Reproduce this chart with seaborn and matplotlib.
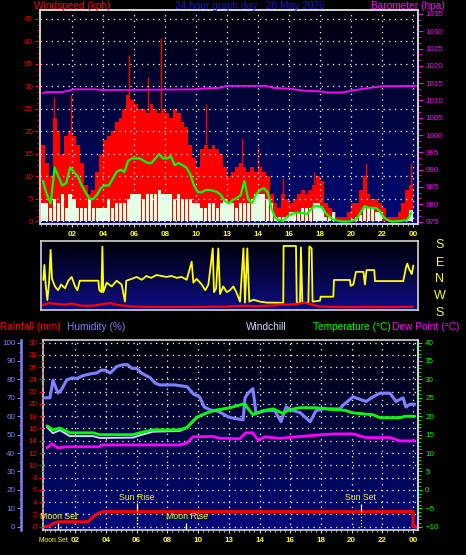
import numpy as np
import pandas as pd
import matplotlib
matplotlib.use("Agg")
import matplotlib.pyplot as plt
import seaborn as sns
from matplotlib.colors import LinearSegmentedColormap
from matplotlib.ticker import FixedLocator, MultipleLocator, AutoMinorLocator

# ---------------- data ----------------
hour_tick_pos = [2, 4, 6, 8, 10, 12, 14, 16, 18, 20, 22, 24]
hour_tick_labels = ["02", "04", "06", "08", "10", "13", "14", "16", "18", "20", "22", "00"]

slot_hours = np.arange(96) * 0.25 + 0.125   # 15-minute sampling slots

wind_gust = [17, 13, 10, 23, 20, 15, 19, 20, 19, 17,
             13, 8, 6, 7, 11, 15, 18, 19, 20, 22,
             23, 25, 28, 27, 26, 25, 25, 24, 26, 25,
             24, 25, 24, 23, 25, 24, 22, 21, 17, 14,
             12, 16, 17, 16, 17, 16, 15, 12, 10, 11,
             12, 13, 12, 11, 12, 11, 12, 11, 10, 6,
             4, 3, 6, 5, 4, 5, 6, 7, 6, 7,
             8, 10, 9, 4, 3, 2, 1, 1, 1, 2,
             4, 4, 7, 10, 6, 5, 5, 4, 3, 1,
             1, 1, 2, 4, 7, 8]
wind_speed = [4, 4, 3, 5, 4, 6, 3, 6, 5, 3,
              3, 3, 5, 3, 3, 3, 3, 5, 3, 4,
              4, 4, 5, 6, 6, 6, 5, 6, 6, 6,
              7, 6, 6, 6, 5, 6, 5, 5, 5, 4,
              4, 3, 3, 4, 4, 3, 4, 5, 4, 4,
              3, 4, 4, 4, 5, 6, 6, 6, 5, 4,
              1, 1, 1, 1, 2, 2, 2, 3, 3, 3,
              4, 4, 3, 1, 1, 2, 0, 0, 0, 0,
              0.5, 1, 1.5, 3, 3, 3, 2, 2, 0, 0,
              0, 0, 0, 0, 0.5, 2.5]
wind_avg = [9, 6, 4, 12, 10, 8, 8.5, 12, 11, 10,
            8, 6.5, 5, 5, 6, 7.5, 8, 8, 9.5, 11,
            11.5, 11, 13.5, 14, 14, 14, 13.5, 13, 13, 14,
            15, 14, 14, 14.5, 12.5, 13, 12.5, 12, 10.5, 8,
            6.5, 6.5, 7, 7, 6.8, 6.5, 5.8, 4.5, 4, 4.8,
            5.2, 5.8, 9, 4.8, 4.1, 6, 7, 7.4, 6.5, 2.8,
            0.8, 0.3, 0.2, 1, 1.6, 1.9, 1.9, 1.9, 1.6, 2.5,
            3.4, 3.4, 3.2, 1.8, 1, 0.4, 0.2, 0, 0, 0,
            0.2, 0.6, 2, 3.4, 3.1, 3, 3, 2.2, 0.9, 0.3,
            0, 0, 0.1, 0.2, 0.3, 2]

gust_peak_hours = [0.84, 1.94, 5.7, 6.9, 7.72, 10.65, 12.97, 14.0, 15.6, 17.6, 20.95, 23.9]
gust_peak_values = [27.7, 28, 37, 32, 40.8, 26, 18.5, 16.6, 9.7, 11, 13, 13]

baro_hours = [0.1, 0.3, 1.3, 1.7, 2.1, 3.5, 4.0, 10.0, 10.5, 11.5, 12.0, 14.5, 15.0,
              16.0, 17.0, 18.0, 18.5, 19.5, 20.0, 21.0, 22.0, 24.2]
baro_values = [1012.0, 1012.4, 1012.4, 1012.7, 1013.2, 1013.2, 1013.0, 1013.2, 1013.5,
               1013.6, 1014.2, 1014.2, 1013.6, 1013.4, 1012.8, 1012.6, 1012.3, 1012.3,
               1012.8, 1013.5, 1014.1, 1014.2]

dir_hours = [0.15, 0.22, 0.3, 0.41, 0.52, 0.62, 0.71, 0.9, 1.1, 1.3,
             1.55, 1.76, 1.98, 2.2, 2.35, 2.5, 2.84, 3.7, 3.76, 3.9,
             3.96, 4.02, 4.24, 4.56, 4.88, 5.2, 5.42, 5.5, 5.85, 6.17,
             6.5, 6.8, 7.1, 7.45, 7.78, 8.1, 8.43, 8.75, 9.07, 9.4,
             9.72, 9.83, 10.04, 10.37, 10.6, 10.8, 11.08, 11.16, 11.3, 11.44,
             11.55, 11.76, 11.98, 12.19, 12.41, 12.6, 12.84, 13.06, 13.16, 13.31,
             13.44, 13.7, 14.13, 14.56, 15.63, 15.65, 16.45, 16.5, 16.71, 16.77,
             16.86, 17.25, 17.31, 17.46, 17.52, 18.0, 18.04, 18.86, 18.9, 19.93,
             19.98, 20.15, 20.32, 20.8, 20.9, 21.0, 21.5, 21.55, 23.37, 23.55,
             23.63, 23.76, 23.92, 24.02]
dir_degrees = [354, 73, 330, 248, 340, 152, 0, 320, 300, 330,
               310, 350, 10, 320, 300, 350, 350, 350, 300, 290,
               169, 290, 340, 320, 350, 330, 240, 350, 0, 10,
               355, 15, 5, 20, 15, 10, 15, 5, 10, 355,
               90, 340, 0, 330, 300, 330, 160, 290, 310, 160,
               280, 320, 290, 300, 320, 290, 240, 160, 235, 160,
               240, 250, 240, 235, 234, 173, 173, 234, 234, 165,
               234, 234, 170, 160, 240, 245, 266, 266, 354, 354,
               323, 330, 37, 37, 330, 46, 46, 348, 348, 60,
               80, 50, 25, 70]

dir_speed_hours = [0.1, 0.5, 1.0, 1.5, 2.0, 2.5, 3.0, 3.5, 4.0, 4.5, 5.0, 6.0, 7.0, 8.0,
                   9.0, 10.0, 11.0, 12.0, 13.0, 14.0, 15.0, 15.5, 16.0, 16.5, 17.0, 17.5,
                   18.0, 19.0, 20.0, 21.0, 22.0, 23.0, 24.0]
dir_speed_trace = [222, 232, 228, 224, 230, 220, 218, 220, 228, 232, 222, 214, 212, 212,
                   212, 212, 213, 214, 218, 216, 220, 226, 224, 228, 234, 224, 214, 212,
                   211, 212, 211, 212, 213]

humidity_hours = [0.03, 0.35, 0.46, 0.55, 0.87, 1.1, 1.44, 1.8, 2.1, 2.5, 3.0, 3.4, 3.7, 4.0,
                  4.27, 4.7, 5.1, 5.4, 5.7, 6.0, 6.3, 6.9, 7.2, 7.5, 8.5, 9.3, 9.7, 10.1,
                  10.4, 10.8, 11.2, 11.5, 12.0, 12.27, 12.93, 13.06, 13.25, 13.57, 13.77,
                  14.42, 15.0, 15.4, 15.73, 16.2, 16.64, 17.3, 17.68, 18.14, 19.24, 19.44,
                  20.09, 20.94, 21.39, 21.85, 22.5, 22.89, 23.35, 23.54, 23.8, 24.1]
humidity_values = [70, 70, 75, 79.5, 72.6, 74.3, 79.7, 80.8, 80.5, 82, 83, 83.5, 85, 85,
                   83.4, 87, 88, 88, 86, 86, 83.5, 80.8, 78, 77, 77, 76, 72, 70.5,
                   65, 63.4, 63, 61.8, 59.5, 59, 58, 70, 72.5, 75, 61.6,
                   63, 63, 57, 65, 63, 62, 57, 63, 64, 64, 66,
                   70.5, 68, 70.5, 72.5, 72.5, 68, 70, 65, 66.5, 66.5]

temp_hours = [0.16, 0.55, 1.0, 1.65, 2.3, 3.15, 3.6, 5.76, 6.2, 7.06, 8.8, 9.27, 9.93, 10.6,
              11.2, 12.08, 12.93, 13.06, 13.57, 14.2, 14.9, 15.5, 16.0, 16.6, 17.7, 18.6,
              19.57, 20.09, 21.39, 21.85, 23.15, 23.5, 24.1]
temp_values = [17.4, 16.3, 16.8, 15.5, 15.5, 15.5, 15.0, 15.0, 15.5, 16.3, 16.3, 17.0, 19.8,
               21.0, 21.7, 22.3, 23.3, 23.1, 20.4, 21.5, 22.0, 20.8, 21.8, 22.3, 22.3, 21.9,
               21.6, 20.9, 20.4, 19.6, 19.6, 20.0, 20.0]
windchill_values = [17.0, 15.4, 16.2, 14.6, 14.6, 14.6, 14.1, 14.2, 14.8, 15.8, 16.0, 16.8,
                    19.6, 20.9, 21.6, 22.3, 23.3, 23.1, 20.4, 21.5, 22.0, 20.8, 21.8, 22.3,
                    22.3, 21.9, 21.6, 20.9, 20.4, 19.6, 19.6, 20.0, 20.0]

dew_hours = [0.16, 0.48, 0.87, 1.46, 3.6, 3.7, 8.8, 9.27, 9.67, 11.0, 11.4, 12.08, 12.7,
             13.1, 13.57, 13.9, 14.36, 15.3, 16.64, 18.8, 20.09, 20.94, 22.5, 23.15, 24.1]
dew_values = [11.4, 12.5, 11.4, 11.7, 11.7, 12.2, 12.2, 12.7, 14.4, 14.5, 14.0, 14.0, 13.8,
              15.5, 15.5, 13.5, 14.4, 14.0, 14.5, 15.2, 15.2, 14.2, 14.2, 13.3, 13.3]

rain_hours = [0.03, 0.3, 0.55, 0.87, 2.83, 3.0, 3.16, 3.5, 3.8, 24.0, 24.0, 24.2]
rain_values = [0, 0.1, 0.5, 0.8, 0.8, 1.2, 1.63, 2.17, 2.45, 2.45, 0, 0]

moon_set_hour, sun_rise_hour, moon_rise_hour, sun_set_hour = 0.87, 6.0, 9.2, 20.6

# ---------------- style ----------------
sns.set_style("dark", {"axes.facecolor": "black", "figure.facecolor": "black"})
plt.rcParams["font.family"] = ["Liberation Sans", "DejaVu Sans"]

W, H = 466, 555
fig = plt.figure(figsize=(W / 100, H / 100), dpi=100, facecolor="black")

FRAME = "#D4D4D4"
YEL = "#FFFF00"
GRID = dict(color="white", linestyle=(0, (1, 3.5)), linewidth=0.9)


def box(x0, y0, x1, y1):
    return [x0 / W, 1 - y1 / H, (x1 - x0) / W, (y1 - y0) / H]


def gradient(ax, top, bottom):
    cmap = LinearSegmentedColormap.from_list("bg", [bottom, top])
    x0, x1 = ax.get_xlim()
    y0, y1 = ax.get_ylim()
    ax.imshow(np.linspace(0, 1, 256).reshape(-1, 1), extent=[x0, x1, y0, y1],
              origin="lower", aspect="auto", cmap=cmap, zorder=0)
    ax.set_xlim(x0, x1)
    ax.set_ylim(y0, y1)


def frame(ax, color=FRAME):
    for s in ax.spines.values():
        s.set_color(color)
        s.set_linewidth(1.2)


def hour_axis(ax):
    ax.xaxis.set_major_locator(FixedLocator(hour_tick_pos))
    ax.set_xticklabels(hour_tick_labels)
    ax.xaxis.set_minor_locator(MultipleLocator(1 / 3))
    ax.tick_params(axis="x", which="major", colors=FRAME, labelcolor=YEL, labelsize=5.8,
                   length=2.5, width=0.8, pad=2.4, bottom=True)
    ax.tick_params(axis="x", which="minor", colors=FRAME, length=1.5, width=0.6, bottom=True)
    for t in ax.get_xticklabels():
        t.set_fontweight("bold")


# ---------------- top panel: wind + barometer ----------------
ax1 = fig.add_axes(box(40, 10, 417.5, 224))
X1 = (-0.065, 24.29)
Y1 = (-0.56, 47.0)
ax1.set_xlim(*X1)
ax1.set_ylim(*Y1)
gradient(ax1, "#00000a", "#000a78")
ax1.bar(slot_hours, wind_gust, width=0.25, color="#FF0000", linewidth=0, zorder=1)
ax1.vlines(gust_peak_hours, 0, gust_peak_values, color="#FF0000", linewidth=1.0, zorder=1)
ax1.bar(slot_hours, wind_speed, width=0.21, color="#E4FFE4", linewidth=0, zorder=1.5)
sns.lineplot(x=slot_hours, y=wind_avg, ax=ax1, color="#00FF00", linewidth=1.6,
             estimator=None, zorder=3)
ax1.yaxis.set_major_locator(MultipleLocator(5))
ax1.yaxis.set_minor_locator(AutoMinorLocator(4))
ax1.tick_params(axis="y", which="major", colors="#FF0000", labelsize=5.8, length=3.5,
                width=0.8, pad=1.5, left=True)
ax1.tick_params(axis="y", which="minor", colors="#FF0000", length=2, width=0.6, left=True)
ax1.set_axisbelow(False)
ax1.grid(True, which="major", **GRID)
hour_axis(ax1)
frame(ax1)
ax1.set_xlabel("")
ax1.set_ylabel("")

ax1b = ax1.twinx()
ax1b.set_ylim(974.28, 1036.13)
sns.lineplot(x=baro_hours, y=baro_values, ax=ax1b, color="#FF00FF", linewidth=1.3,
             estimator=None)
ax1b.yaxis.set_major_locator(MultipleLocator(5))
ax1b.yaxis.set_minor_locator(AutoMinorLocator(3))
ax1b.tick_params(axis="y", which="major", colors="#FF00FF", labelsize=5.8, length=3.5,
                 width=0.8, pad=2.5, right=True)
ax1b.tick_params(axis="y", which="minor", colors="#FF00FF", length=2, width=0.6, right=True)
ax1b.grid(False)
frame(ax1b)
ax1b.set_ylabel("")
ax1.set_xlim(*X1)
ax1.set_ylim(*Y1)

# ---------------- middle panel: wind direction ----------------
ax2 = fig.add_axes(box(41, 241, 417.5, 310))
X2 = (0, 24.29)
Y2 = (196, 559)
ax2.set_xlim(*X2)
ax2.set_ylim(*Y2)
gradient(ax2, "#000008", "#0c0c84")
dir_plot = [d if d >= 180 else d + 360 for d in dir_degrees]
sns.lineplot(x=dir_hours, y=dir_plot, ax=ax2, color=YEL, linewidth=1.3,
             estimator=None, sort=False)
sns.lineplot(x=dir_speed_hours, y=dir_speed_trace, ax=ax2, color="#FF0000", linewidth=1.6,
             estimator=None, sort=False)
ax2.set_xticks([])
ax2.set_yticks([])
ax2.grid(False)
frame(ax2)
ax2.set_xlabel("")
ax2.set_ylabel("")
ax2.set_xlim(*X2)
ax2.set_ylim(*Y2)

for letter, ypx in zip(["S", "E", "N", "W", "S"], [244.7, 262.7, 279, 296, 313]):
    fig.text(440 / W, 1 - ypx / H, letter, color=YEL, fontsize=9, ha="center", va="center")

# ---------------- bottom panel: rain / humidity / temperature ----------------
ax3 = fig.add_axes(box(43, 339.5, 417.5, 530))
X3 = (-0.1, 24.29)
Y3 = (-0.54, 30.5)
ax3.set_xlim(*X3)
ax3.set_ylim(*Y3)
gradient(ax3, "#000008", "#000a7a")
ax3.yaxis.set_major_locator(MultipleLocator(2))
ax3.yaxis.set_minor_locator(AutoMinorLocator(2))
ax3.tick_params(axis="y", which="major", colors="#FF0000", labelsize=5.8, length=3,
                width=0.8, pad=1.2, left=True)
ax3.tick_params(axis="y", which="minor", colors="#FF0000", length=1.8, width=0.6, left=True)
ax3.set_axisbelow(False)
ax3.grid(True, which="major", **GRID)
hour_axis(ax3)
frame(ax3)
sns.lineplot(x=rain_hours, y=rain_values, ax=ax3, color="#FF0000", linewidth=2.2,
             estimator=None, sort=False, zorder=3)

# sun / moon events
ax3.vlines(sun_rise_hour, 2.7, 3.86, color="white", linewidth=0.9, zorder=4)
ax3.vlines(sun_rise_hour, Y3[0], 2.7, color=YEL, linewidth=0.9, linestyles=(0, (1, 1.5)), zorder=4)
ax3.vlines(sun_set_hour, 2.4, 3.7, color="white", linewidth=0.9, zorder=4)
ax3.vlines(sun_set_hour, Y3[0], 2.4, color=YEL, linewidth=0.9, linestyles=(0, (1, 1.5)), zorder=4)
ax3.vlines([moon_set_hour, moon_rise_hour], Y3[0], 0.6, color="white", linewidth=0.9, zorder=4)
ax3.text(sun_rise_hour, 4.7, "Sun Rise", color=YEL, fontsize=6.3, ha="center", va="center", zorder=5)
ax3.text(sun_set_hour - 0.05, 4.7, "Sun Set", color=YEL, fontsize=6.3, ha="center", va="center", zorder=5)
ax3.text(moon_set_hour + 0.07, 1.6, "Moon Set", color=YEL, fontsize=6.3, ha="center", va="center", zorder=5)
ax3.text(moon_rise_hour + 0.08, 1.6, "Moon Rise", color=YEL, fontsize=6.3, ha="center", va="center", zorder=5)
ax3.set_xlabel("")
ax3.set_ylabel("")

axh = ax3.twinx()
axh.set_ylim(Y3[0] * 10 / 3, Y3[1] * 10 / 3)
axh.yaxis.set_ticks_position("left")
axh.yaxis.set_label_position("left")
axh.spines["left"].set_position(("axes", (21 - 43) / 374.5))
for side in ["right", "top", "bottom"]:
    axh.spines[side].set_visible(False)
axh.spines["left"].set_visible(True)
axh.spines["left"].set_color("#8080FF")
axh.spines["left"].set_linewidth(1.8)
axh.yaxis.set_major_locator(MultipleLocator(10))
axh.yaxis.set_minor_locator(AutoMinorLocator(2))
axh.tick_params(axis="y", which="major", colors="#8080FF", labelsize=5.8, length=3,
                width=0.8, pad=1.2, left=True, right=False, labelleft=True, labelright=False)
axh.tick_params(axis="y", which="minor", colors="#8080FF", length=1.8, width=0.6,
                left=True, right=False)
axh.grid(False)
sns.lineplot(x=humidity_hours, y=humidity_values, ax=axh, color="#8080FF", linewidth=2.2,
             estimator=None, sort=False)
axh.set_ylabel("")

axt = ax3.twinx()
axt.set_ylim(Y3[0] * 5 / 3 - 10, Y3[1] * 5 / 3 - 10)
axt.yaxis.set_major_locator(MultipleLocator(5))
axt.yaxis.set_minor_locator(AutoMinorLocator(5))
axt.tick_params(axis="y", which="major", colors="#00FF00", labelsize=5.8, length=3,
                width=0.8, pad=2.5, right=True)
axt.tick_params(axis="y", which="minor", colors="#00FF00", length=1.8, width=0.6, right=True)
axt.grid(False)
for side in ["left", "top", "bottom"]:
    axt.spines[side].set_visible(False)
axt.spines["right"].set_color(FRAME)
axt.spines["right"].set_linewidth(1.2)
sns.lineplot(x=temp_hours, y=windchill_values, ax=axt, color="#C8DCFF", linewidth=1.4,
             estimator=None, sort=False)
sns.lineplot(x=temp_hours, y=temp_values, ax=axt, color="#00FF00", linewidth=2.0,
             estimator=None, sort=False)
sns.lineplot(x=dew_hours, y=dew_values, ax=axt, color="#FF00FF", linewidth=2.0,
             estimator=None, sort=False)
axt.set_ylabel("")
ax3.set_xlim(*X3)
ax3.set_ylim(*Y3)

fig.text(39 / W, 1 - 541 / H, "Moon Set", color=YEL, fontsize=4.9,
         ha="left", va="center")

# ---------------- header texts ----------------
fs = 7.3
fig.text(34 / W, 1 - 6 / H, "Windspeed (kph)", color="#FF0000", fontsize=fs, ha="left", va="center")
fig.text(250 / W, 1 - 6 / H, "24 hour graph day : 20 May 2026", color="#1414D8", fontsize=fs,
         ha="center", va="center")
fig.text(371 / W, 1 - 6 / H, "Barometer (hpa)", color="#FF00FF", fontsize=fs, ha="left", va="center")

fig.text(0 / W, 1 - 327 / H, "Rainfall (mm)", color="#FF0000", fontsize=fs, ha="left", va="center")
fig.text(67 / W, 1 - 327 / H, "Humidity (%)", color="#8080FF", fontsize=fs, ha="left", va="center")
fig.text(246 / W, 1 - 327 / H, "Windchill", color="#C8DCFF", fontsize=fs, ha="left", va="center")
fig.text(313 / W, 1 - 327 / H, "Temperature (°C)", color="#00FF00", fontsize=fs, ha="left", va="center")
fig.text(392 / W, 1 - 327 / H, "Dew Point (°C)", color="#FF00FF", fontsize=fs, ha="left", va="center")

fig.savefig("out.png", dpi=100, facecolor="black")
